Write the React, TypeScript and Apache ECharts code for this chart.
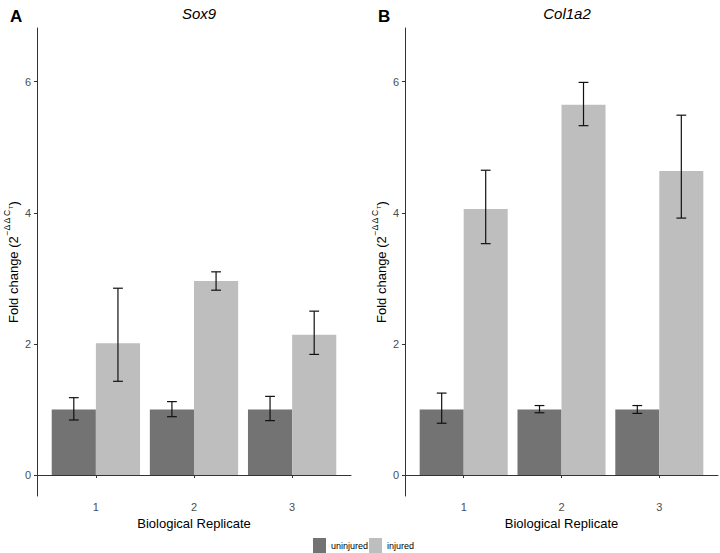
import React, { useEffect, useRef } from "react";
import * as echarts from "echarts";

const categories = [1, 2, 3];
const groups = ["uninjured", "injured"];
const yTicks = [0, 2, 4, 6];

const sox9Uninjured = [1, 1, 1];
const sox9UninjuredLo = [0.84, 0.89, 0.83];
const sox9UninjuredHi = [1.18, 1.12, 1.2];
const sox9Injured = [2.01, 2.96, 2.14];
const sox9InjuredLo = [1.43, 2.82, 1.84];
const sox9InjuredHi = [2.85, 3.1, 2.5];

const col1a2Uninjured = [1, 1, 1];
const col1a2UninjuredLo = [0.79, 0.95, 0.94];
const col1a2UninjuredHi = [1.25, 1.06, 1.06];
const col1a2Injured = [4.06, 5.65, 4.64];
const col1a2InjuredLo = [3.53, 5.33, 3.92];
const col1a2InjuredHi = [4.65, 5.99, 5.49];

const FONT = "'Liberation Sans', Arial, Helvetica, sans-serif";
const COLORS = ["#737373", "#bebebe"];

function rows(vals: number[], lo: number[], hi: number[]) {
  return categories.map((c, i) => [c, vals[i], lo[i], hi[i]]);
}

function makeRender(offset: number, color: string) {
  return (params: any, api: any) => {
    const x = api.value(0) + offset;
    const y = api.value(1);
    const lo = api.value(2);
    const hi = api.value(3);
    const tl = api.coord([x - 0.225, y]);
    const br = api.coord([x + 0.225, 0]);
    const top = api.coord([x, hi]);
    const bot = api.coord([x, lo]);
    const cap = api.size([0.05, 0])[0];
    const stroke = { stroke: "#111", lineWidth: 1.2 };
    return {
      type: "group",
      children: [
        {
          type: "rect",
          shape: { x: tl[0], y: tl[1], width: br[0] - tl[0], height: br[1] - tl[1] },
          style: { fill: color },
        },
        { type: "line", shape: { x1: top[0], y1: top[1], x2: bot[0], y2: bot[1] }, style: stroke },
        { type: "line", shape: { x1: top[0] - cap, y1: top[1], x2: top[0] + cap, y2: top[1] }, style: stroke },
        { type: "line", shape: { x1: bot[0] - cap, y1: bot[1], x2: bot[0] + cap, y2: bot[1] }, style: stroke },
      ],
    };
  };
}

function xAxis(gridIndex: number) {
  return {
    type: "value",
    gridIndex,
    min: 0.4,
    max: 3.6,
    name: "Biological Replicate",
    nameLocation: "middle",
    nameGap: 21,
    nameTextStyle: { fontSize: 13, color: "#000", fontFamily: FONT },
    axisLine: { show: true, lineStyle: { color: "#333", width: 1 } },
    axisTick: { show: true, length: 3, lineStyle: { color: "#333" }, customValues: categories },
    axisLabel: { color: "#4d4d4d", fontSize: 11, fontFamily: FONT, margin: 5, customValues: categories },
    splitLine: { show: false },
  };
}

function yAxis(gridIndex: number) {
  return {
    type: "value",
    gridIndex,
    min: -0.32,
    max: 6.82,
    name: "{n|Fold change (2}{s|−Δ Δ C}{t|T}{n|)}",
    nameLocation: "middle",
    nameRotate: 90,
    nameGap: 17,
    nameTextStyle: {
      fontFamily: FONT,
      color: "#000",
      rich: {
        n: { fontSize: 13, color: "#000", fontFamily: FONT, lineHeight: 18, verticalAlign: "bottom" },
        s: { fontSize: 8.5, color: "#000", fontFamily: FONT, lineHeight: 18, verticalAlign: "top" },
        t: { fontSize: 6, color: "#000", fontFamily: FONT, lineHeight: 18, verticalAlign: "middle" },
      },
    },
    axisLine: { show: true, lineStyle: { color: "#333", width: 1 } },
    axisTick: { show: true, length: 3, lineStyle: { color: "#333" }, customValues: yTicks },
    axisLabel: { color: "#4d4d4d", fontSize: 11, fontFamily: FONT, margin: 6, customValues: yTicks },
    splitLine: { show: false },
  };
}

export default function App() {
  const ref = useRef<HTMLDivElement>(null);
  useEffect(() => {
    if (!ref.current) return;
    const chart = echarts.init(ref.current, undefined, { renderer: "svg" });
    const panels = [
      [rows(sox9Uninjured, sox9UninjuredLo, sox9UninjuredHi), rows(sox9Injured, sox9InjuredLo, sox9InjuredHi)],
      [rows(col1a2Uninjured, col1a2UninjuredLo, col1a2UninjuredHi), rows(col1a2Injured, col1a2InjuredLo, col1a2InjuredHi)],
    ];
    const series: any[] = [];
    panels.forEach((p, pi) => {
      p.forEach((data, gi) => {
        series.push({
          type: "custom",
          name: groups[gi],
          xAxisIndex: pi,
          yAxisIndex: pi,
          itemStyle: { color: COLORS[gi] },
          encode: { x: 0, y: [1, 2, 3] },
          data,
          renderItem: makeRender(gi === 0 ? -0.225 : 0.225, COLORS[gi]),
        });
      });
    });
    chart.setOption({
      animation: false,
      backgroundColor: "#fff",
      title: [
        { text: "Sox9", left: 194, top: 1, textAlign: "center", textStyle: { fontStyle: "italic", fontWeight: "normal", fontSize: 15, color: "#000", fontFamily: FONT } },
        { text: "Col1a2", left: 562, top: 1, textAlign: "center", textStyle: { fontStyle: "italic", fontWeight: "normal", fontSize: 15, color: "#000", fontFamily: FONT } },
        { text: "A", left: 5, top: 3, textStyle: { fontWeight: "bold", fontSize: 17, color: "#000", fontFamily: FONT } },
        { text: "B", left: 373, top: 3, textStyle: { fontWeight: "bold", fontSize: 17, color: "#000", fontFamily: FONT } },
      ],
      legend: {
        data: groups,
        left: 313,
        top: 538,
        icon: "rect",
        itemWidth: 13,
        itemHeight: 15,
        itemGap: 1,
        padding: 0,
        textStyle: { fontSize: 9, color: "#000", fontFamily: FONT },
      },
      grid: [
        { left: 37, right: 369, top: 28, bottom: 57, containLabel: false },
        { left: 405, right: 2, top: 28, bottom: 57, containLabel: false },
      ],
      xAxis: [xAxis(0), xAxis(1)],
      yAxis: [yAxis(0), yAxis(1)],
      series,
    });
    return () => chart.dispose();
  }, []);
  return <div ref={ref} style={{ width: 720, height: 553, position: "fixed", left: 0, top: 0 }} />;
}
